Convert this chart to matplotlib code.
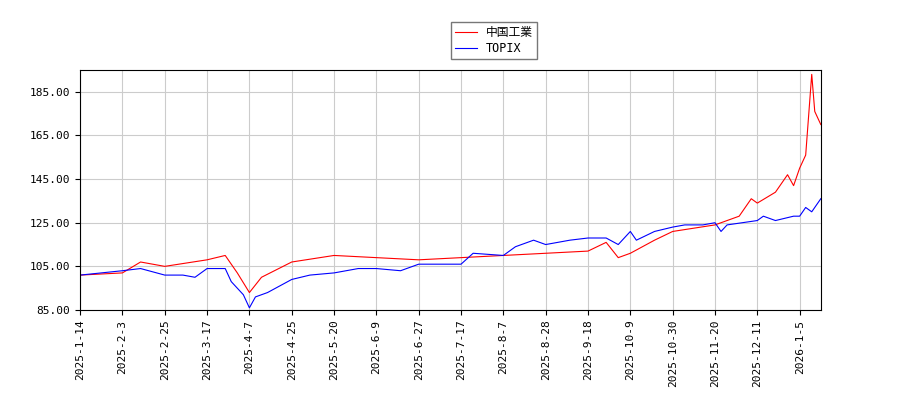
import matplotlib
matplotlib.use("Agg")
import matplotlib.pyplot as plt

plt.rcParams['font.family'] = ['DejaVu Sans Mono', 'Noto Sans CJK JP']

tick_labels = ["2025-1-14","2025-2-3","2025-2-25","2025-3-17","2025-4-7","2025-4-25",
               "2025-5-20","2025-6-9","2025-6-27","2025-7-17","2025-8-7","2025-8-28",
               "2025-9-18","2025-10-9","2025-10-30","2025-11-20","2025-12-11","2026-1-5"]
tick_days = [i*14 for i in range(len(tick_labels))]

red_days = [0,14,20,28,42,48,52,56,60,70,84,98,112,126,140,154,168,174,178,182,190,196,210,218,222,224,230,234,236,238,240,242,243,245]
red_vals = [101,102,107,105,108,110,102,93,100,107,110,109,108,109,110,111,112,116,109,111,117,121,124,128,136,134,139,147,142,150,156,193,176,170]

blue_days = [0,14,20,28,34,38,42,48,50,54,56,58,62,70,76,84,92,98,106,112,126,130,140,144,150,154,162,168,174,178,182,184,190,196,200,206,210,212,214,224,226,230,236,238,240,242,245]
blue_vals = [101,103,104,101,101,100,104,104,98,92,86,91,93,99,101,102,104,104,103,106,106,111,110,114,117,115,117,118,118,115,121,117,121,123,124,124,125,121,124,126,128,126,128,128,132,130,136]

fig = plt.figure(figsize=(9, 4), dpi=100)
ax = fig.add_axes([0.089, 0.225, 0.823, 0.6])
ax.plot(red_days, red_vals, color='red', lw=0.8, label='中国工業')
ax.plot(blue_days, blue_vals, color='blue', lw=0.8, label='TOPIX')
ax.set_xlim(0, 245)
ax.set_ylim(85, 195)
ax.set_yticks([85,105,125,145,165,185])
ax.set_yticklabels([f"{v:.2f}" for v in [85,105,125,145,165,185]], fontsize=8)
ax.set_xticks(tick_days)
ax.set_xticklabels(tick_labels, rotation=90, fontsize=8)
ax.grid(True, color='#cccccc', lw=0.8)
fig.legend(loc='upper center', bbox_to_anchor=(0.549, 0.96), fontsize=8.5, fancybox=False,
           edgecolor='#555555', borderpad=0.35, labelspacing=0.25, handlelength=1.8)
fig.savefig('out.png')
